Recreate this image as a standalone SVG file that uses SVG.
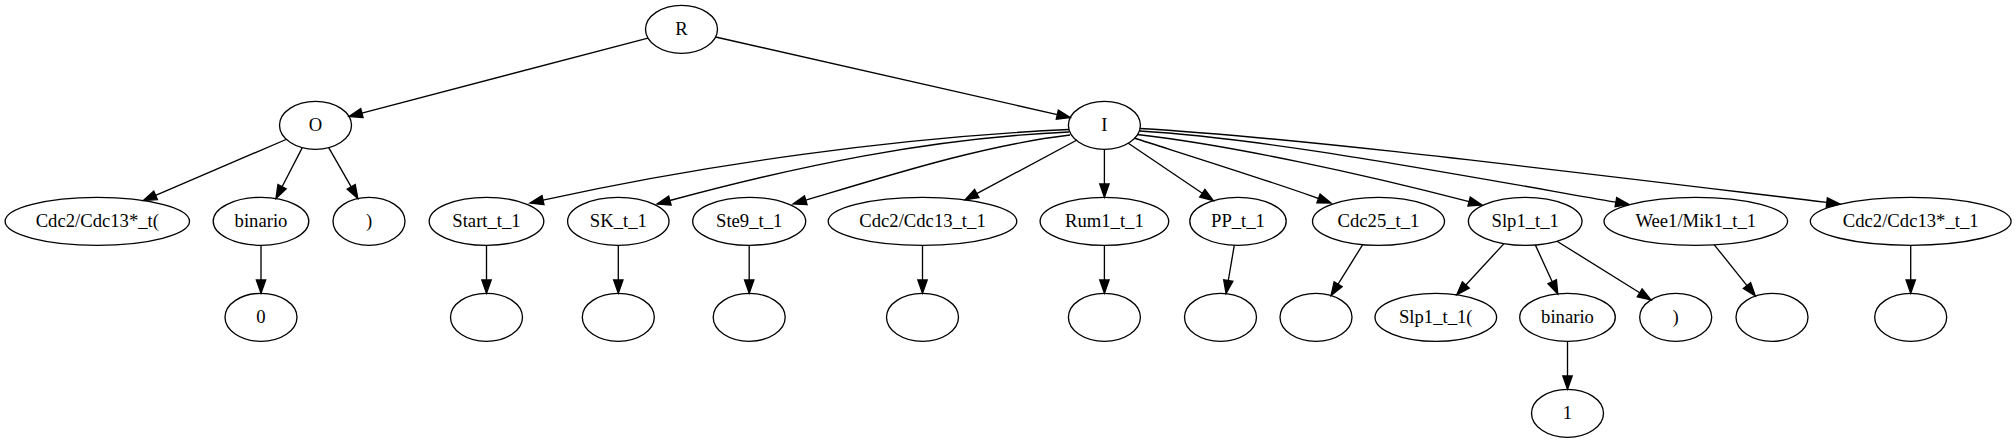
<svg xmlns="http://www.w3.org/2000/svg" width="2016" height="443" viewBox="0 0 2016 443">
<defs>
<style>
.node ellipse{fill:none;stroke:#000;stroke-width:1.33}
.node text{font-family:"Liberation Serif","Times New Roman",serif;font-size:18.67px;text-anchor:middle;fill:#000}
#edges path{fill:none;stroke:#000;stroke-width:1.33;marker-end:url(#arrow)}
</style>
<marker id="arrow" viewBox="0 0 14 10" refX="0" refY="5" markerWidth="14" markerHeight="10" markerUnits="userSpaceOnUse" orient="auto" overflow="visible">
<path d="M0,0.33 L13.33,5 L0,9.67 Z" fill="#000" stroke="#000" stroke-width="1.33"/>
</marker>
</defs>
<rect x="0" y="0" width="2016" height="443" fill="#fff"/>
<g id="edges">
<path d="M648,38.1 L361.9,113.1"/>
<path d="M715.6,37 L1057.3,114.6"/>
<path d="M286,139.5 L155.6,195.3"/>
<path d="M302.3,147.6 L282.1,186.7"/>
<path d="M328.7,147.6 L351.2,186.9"/>
<path d="M261,245.3 L261,280"/>
<path d="M1069,129.5 C899,137.5 709,163.6 543,200.1"/>
<path d="M1069,132 C930,138 795.3,166.6 669.9,200.5"/>
<path d="M1070,135 C985,145 892,174.4 805.8,200.2"/>
<path d="M1077,140 L976.8,193.6"/>
<path d="M1104.4,149.3 L1104.4,184"/>
<path d="M1128.3,143.2 L1202.3,193.2"/>
<path d="M1134,138 C1190,156 1270,181 1318.5,198.5"/>
<path d="M1137,134.5 C1230,145 1362.6,173.9 1469.1,201.6"/>
<path d="M1139.5,131 C1260,138 1418.9,167.7 1615.9,202.2"/>
<path d="M1140,128.5 C1290,137 1528.9,166.7 1826.8,202.4"/>
<path d="M486.5,245.3 L486.5,280"/>
<path d="M618.3,245.3 L618.3,280"/>
<path d="M749.2,245.3 L749.2,280"/>
<path d="M922.5,245.3 L922.5,280"/>
<path d="M1104.4,245.3 L1104.4,280"/>
<path d="M1234.3,245.2 L1228.3,280.5"/>
<path d="M1362.7,244.6 L1338.1,284.2"/>
<path d="M1504,243.6 L1465.8,285"/>
<path d="M1535.3,244.9 L1552.2,281.7"/>
<path d="M1557,241.2 L1639.7,292.8"/>
<path d="M1714.3,244.8 L1747,285.6"/>
<path d="M1910.7,245.3 L1910.7,280"/>
<path d="M1567.5,341.3 L1567.5,376"/>
</g>
<g id="n_R" class="node"><ellipse cx="681.5" cy="29.3" rx="36" ry="24"/><text x="681.5" y="34.9">R</text></g>
<g id="n_O" class="node"><ellipse cx="315.5" cy="125.3" rx="36" ry="24"/><text x="315.5" y="130.9">O</text></g>
<g id="n_I" class="node"><ellipse cx="1104.4" cy="125.3" rx="36" ry="24"/><text x="1104.4" y="130.9">I</text></g>
<g id="n_cdc2cdc13star_open" class="node"><ellipse cx="97.3" cy="221.3" rx="92.2" ry="24"/><text x="97.3" y="226.9">Cdc2/Cdc13*_t(</text></g>
<g id="n_binario0" class="node"><ellipse cx="261" cy="221.3" rx="47.8" ry="24"/><text x="261" y="226.9">binario</text></g>
<g id="n_close0" class="node"><ellipse cx="369" cy="221.3" rx="36" ry="24"/><text x="369" y="226.9">)</text></g>
<g id="n_start" class="node"><ellipse cx="486.5" cy="221.3" rx="57.3" ry="24"/><text x="486.5" y="226.9">Start_t_1</text></g>
<g id="n_sk" class="node"><ellipse cx="618.3" cy="221.3" rx="50.7" ry="24"/><text x="618.3" y="226.9">SK_t_1</text></g>
<g id="n_ste9" class="node"><ellipse cx="749.2" cy="221.3" rx="56.5" ry="24"/><text x="749.2" y="226.9">Ste9_t_1</text></g>
<g id="n_cdc2cdc13" class="node"><ellipse cx="922.5" cy="221.3" rx="94.3" ry="24"/><text x="922.5" y="226.9">Cdc2/Cdc13_t_1</text></g>
<g id="n_rum1" class="node"><ellipse cx="1104.4" cy="221.3" rx="64.3" ry="24"/><text x="1104.4" y="226.9">Rum1_t_1</text></g>
<g id="n_pp" class="node"><ellipse cx="1238" cy="221.3" rx="48.2" ry="24"/><text x="1238" y="226.9">PP_t_1</text></g>
<g id="n_cdc25" class="node"><ellipse cx="1378.5" cy="221.3" rx="66" ry="24"/><text x="1378.5" y="226.9">Cdc25_t_1</text></g>
<g id="n_slp1" class="node"><ellipse cx="1525.2" cy="221.3" rx="56.8" ry="24"/><text x="1525.2" y="226.9">Slp1_t_1</text></g>
<g id="n_wee1" class="node"><ellipse cx="1695.8" cy="221.3" rx="91.8" ry="24"/><text x="1695.8" y="226.9">Wee1/Mik1_t_1</text></g>
<g id="n_cdc2cdc13star" class="node"><ellipse cx="1910.7" cy="221.3" rx="100.4" ry="24"/><text x="1910.7" y="226.9">Cdc2/Cdc13*_t_1</text></g>
<g id="n_zero" class="node"><ellipse cx="261" cy="317.3" rx="36" ry="24"/><text x="261" y="322.9">0</text></g>
<g id="n_start_c" class="node"><ellipse cx="486.5" cy="317.3" rx="36" ry="24"/></g>
<g id="n_sk_c" class="node"><ellipse cx="618.3" cy="317.3" rx="36" ry="24"/></g>
<g id="n_ste9_c" class="node"><ellipse cx="749.2" cy="317.3" rx="36" ry="24"/></g>
<g id="n_cdc2cdc13_c" class="node"><ellipse cx="922.5" cy="317.3" rx="36" ry="24"/></g>
<g id="n_rum1_c" class="node"><ellipse cx="1104.4" cy="317.3" rx="36" ry="24"/></g>
<g id="n_pp_c" class="node"><ellipse cx="1220.5" cy="317.3" rx="36" ry="24"/></g>
<g id="n_cdc25_c" class="node"><ellipse cx="1316" cy="317.3" rx="36" ry="24"/></g>
<g id="n_slp1_open" class="node"><ellipse cx="1435.8" cy="317.3" rx="60.8" ry="24"/><text x="1435.8" y="322.9">Slp1_t_1(</text></g>
<g id="n_binario1" class="node"><ellipse cx="1567.5" cy="317.3" rx="47.8" ry="24"/><text x="1567.5" y="322.9">binario</text></g>
<g id="n_close1" class="node"><ellipse cx="1675.7" cy="317.3" rx="36" ry="24"/><text x="1675.7" y="322.9">)</text></g>
<g id="n_wee1_c" class="node"><ellipse cx="1772" cy="317.3" rx="36" ry="24"/></g>
<g id="n_cdc2cdc13star_c" class="node"><ellipse cx="1910.7" cy="317.3" rx="36" ry="24"/></g>
<g id="n_one" class="node"><ellipse cx="1567.5" cy="413.3" rx="36" ry="24"/><text x="1567.5" y="418.9">1</text></g>
</svg>
